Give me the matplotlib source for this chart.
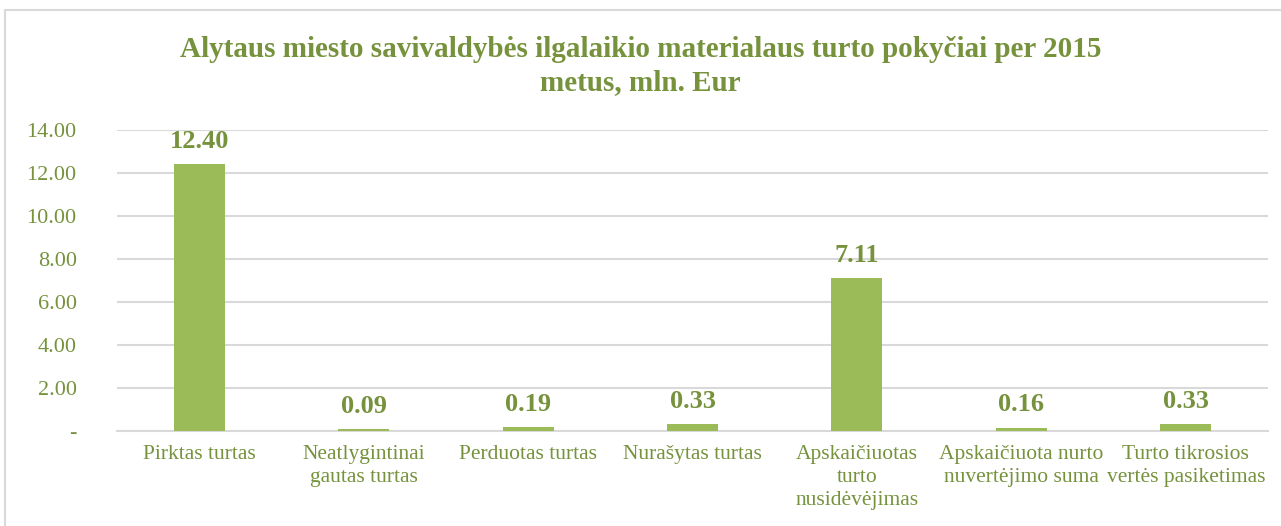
import matplotlib
matplotlib.use("Agg")
import matplotlib.pyplot as plt
from matplotlib.patches import Rectangle

categories = ["Pirktas turtas", "Neatlygintinai\ngautas turtas", "Perduotas turtas",
              "Nurašytas turtas", "Apskaičiuotas\nturto\nnusidėvėjimas",
              "Apskaičiuota nurto\nnuvertėjimo suma", "Turto tikrosios\nvertės pasiketimas"]
values = [12.40, 0.09, 0.19, 0.33, 7.11, 0.16, 0.33]
yticks = [0, 2, 4, 6, 8, 10, 12, 14]
title = "Alytaus miesto savivaldybės ilgalaikio materialaus turto pokyčiai per 2015\nmetus, mln. Eur"

GREEN_TXT = "#76923C"
BAR = "#9BBB59"
GRID = "#D9D9D9"

plt.rcParams['font.family'] = ['Liberation Serif', 'DejaVu Serif']

fig = plt.figure(figsize=(12.81, 5.26), dpi=100)
fig.patches.append(Rectangle((5/1281, -0.01), 1.0, 1 - 10/526 + 0.01, transform=fig.transFigure,
                             fill=False, edgecolor="#D9D9D9", linewidth=1.5))
ax = fig.add_axes([117/1281, 1 - 431/526, (1268 - 117)/1281, (431 - 130)/526])

x = list(range(len(categories)))
bars = ax.bar(x, values, width=0.31, color=BAR, zorder=3)
ax.set_xlim(-0.5, len(categories) - 0.5)
ax.set_ylim(0, 14)
ax.set_yticks(yticks)
ax.set_yticklabels(["-" if v == 0 else f"{v:.2f}" for v in yticks])
ax.set_xticks(x)
ax.set_xticklabels(categories, linespacing=1.3)
ax.tick_params(axis='y', length=0, colors=GREEN_TXT, labelsize=16)
ax.tick_params(axis='x', length=0, colors=GREEN_TXT, labelsize=15.5)
ax.tick_params(axis='y', pad=29)
ax.tick_params(axis='x', pad=10)
ax.grid(axis='y', color=GRID, linewidth=1.5, zorder=0)
for s in ["top", "right", "left"]:
    ax.spines[s].set_visible(False)
ax.spines["bottom"].set_color(GRID)
ax.spines["bottom"].set_linewidth(1.5)

for b, v in zip(bars, values):
    ax.annotate(f"{v:.2f}", (b.get_x() + b.get_width() / 2, v), xytext=(0, 8),
                textcoords="offset points", ha="center", va="bottom",
                fontsize=19, fontweight="bold", color=GREEN_TXT)

fig.text(0.5, 1 - 66/526, title, ha="center", va="center", fontsize=21,
         fontweight="bold", color=GREEN_TXT, linespacing=1.3)

fig.savefig("out.png", dpi=100)
